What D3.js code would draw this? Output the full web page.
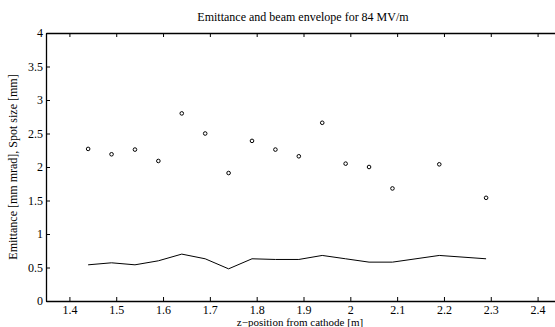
<!DOCTYPE html>
<html>
<head>
<meta charset="utf-8">
<title>Emittance and beam envelope</title>
<style>
body { margin: 0; background: #fff; }
svg { display: block; font-family: "Liberation Serif", "DejaVu Serif", serif; }
.tick text { font-family: "Liberation Serif", serif; font-size: 12px; fill: #000; }
</style>
</head>
<body>
<svg width="555" height="327"></svg>
<script src="https://d3js.org/d3.v7.min.js"></script>
<script>
// spot size measurements (circles)
var spotZ = [1.44, 1.49, 1.54, 1.59, 1.64, 1.69, 1.74, 1.79, 1.84, 1.89, 1.94, 1.99, 2.04, 2.09, 2.19, 2.29];
var spotSize = [2.27, 2.19, 2.26, 2.09, 2.80, 2.50, 1.91, 2.39, 2.26, 2.16, 2.66, 2.05, 2.00, 1.68, 2.04, 1.54];
// emittance (line)
var emitZ = [1.44, 1.49, 1.54, 1.59, 1.64, 1.69, 1.74, 1.79, 1.84, 1.89, 1.94, 1.99, 2.04, 2.09, 2.19, 2.29];
var emittance = [0.54, 0.57, 0.54, 0.60, 0.70, 0.63, 0.48, 0.63, 0.62, 0.62, 0.68, 0.63, 0.58, 0.58, 0.68, 0.63];
var xTicks = [1.4, 1.5, 1.6, 1.7, 1.8, 1.9, 2.0, 2.1, 2.2, 2.3, 2.4];
var yTicks = [0, 0.5, 1, 1.5, 2, 2.5, 3, 3.5, 4];

var svg = d3.select("svg"),
    margin = {top: 33, right: -6, bottom: 26, left: 46},
    width = +svg.attr("width") - margin.left - margin.right,
    height = +svg.attr("height") - margin.top - margin.bottom;

var x = d3.scaleLinear().domain([1.35, 2.45]).range([margin.left, margin.left + width]);
var y = d3.scaleLinear().domain([0, 4]).range([margin.top + height, margin.top]);

// title
svg.append("text")
    .attr("x", 303).attr("y", 21)
    .attr("text-anchor", "middle")
    .style("font-size", "12px")
    .text("Emittance and beam envelope for 84 MV/m");

// axes, ticks pointing inward
var fmt = function(d) { return String(d); };
function serif(g) {
    g.attr("font-family", null).attr("font-size", null);
    g.select(".domain").attr("stroke-width", 1.3);
}
svg.append("g")
    .attr("transform", "translate(0," + y(0) + ")")
    .call(d3.axisBottom(x).tickValues(xTicks).tickFormat(fmt).tickSizeInner(-4).tickSizeOuter(0).tickPadding(4))
    .call(serif);
svg.append("g")
    .attr("transform", "translate(0," + y(4) + ")")
    .call(d3.axisTop(x).tickValues(xTicks).tickFormat("").tickSizeInner(-4).tickSizeOuter(0))
    .call(serif);
svg.append("g")
    .attr("transform", "translate(" + x(1.35) + ",0)")
    .call(d3.axisLeft(y).tickValues(yTicks).tickFormat(fmt).tickSizeInner(-4).tickSizeOuter(0).tickPadding(3))
    .call(serif);

// emittance line
svg.append("path")
    .datum(emitZ.map(function(z, i) { return [z, emittance[i]]; }))
    .attr("fill", "none")
    .attr("stroke", "#000")
    .attr("stroke-width", 1)
    .attr("d", d3.line().x(function(d) { return x(d[0]); }).y(function(d) { return y(d[1]); }));

// spot size circles
svg.append("g").selectAll("circle")
    .data(spotZ.map(function(z, i) { return [z, spotSize[i]]; }))
    .enter().append("circle")
    .attr("cx", function(d) { return x(d[0]); })
    .attr("cy", function(d) { return y(d[1]); })
    .attr("r", 1.8)
    .attr("fill", "none")
    .attr("stroke", "#000")
    .attr("stroke-width", 1);

// axis labels
svg.append("text")
    .attr("x", 300).attr("y", 326)
    .attr("text-anchor", "middle")
    .style("font-size", "11px")
    .text("z\u2212position from cathode [m]");
svg.append("text")
    .attr("transform", "translate(17," + y(2) + ") rotate(-90)")
    .attr("text-anchor", "middle")
    .style("font-size", "12px")
    .text("Emittance [mm mrad], Spot size [mm]");
</script>
</body>
</html>
